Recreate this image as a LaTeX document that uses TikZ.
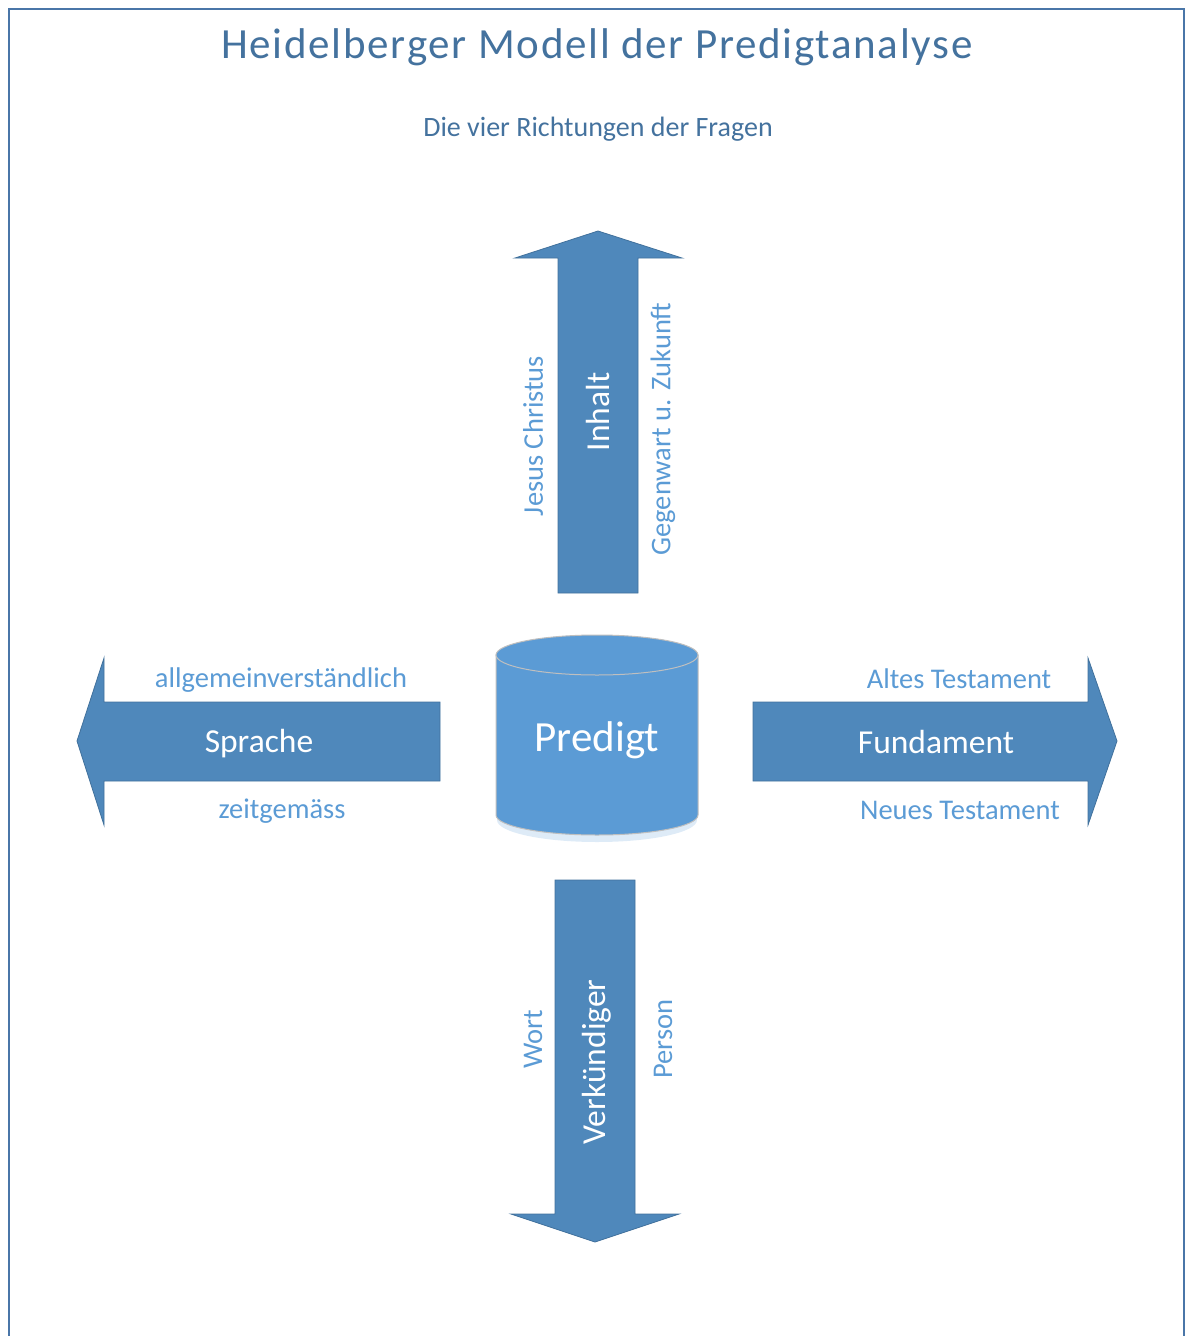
\documentclass[tikz,border=0pt]{standalone}
\usepackage{fontspec}
\setmainfont{Carlito}
\definecolor{arrowfill}{HTML}{4F88BB}
\definecolor{arrowedge}{HTML}{41719C}
\definecolor{cylfill}{HTML}{5B9BD5}
\definecolor{labelblue}{HTML}{5B9BD5}
\definecolor{titleblue}{HTML}{44729E}
\definecolor{framecol}{HTML}{4A76A8}
\tikzset{
  bigarrow/.style={fill=arrowfill, draw=arrowedge, line width=0.8pt, line join=miter},
  whitelabel/.style={text=white, font=\fontsize{33.5}{36}\selectfont, inner sep=0pt},
  sidelabel/.style={text=labelblue, font=\fontsize{28.5}{32}\selectfont, inner sep=0pt},
  framestyle/.style={draw=framecol, line width=2.4pt},
}
\begin{document}
\begin{tikzpicture}[x=1pt,y=-1pt]
\useasboundingbox (0,0) rectangle (1187,1336);
% frame
\draw[framestyle] (9,1345) -- (9,9) -- (1184,9) -- (1184,1345);
% title
\node[text=titleblue, font=\fontsize{43}{48}\selectfont\addfontfeature{LetterSpace=4}, inner sep=0pt] (title) at (597,47) {Heidelberger Modell der Predigtanalyse};
\node[text=titleblue, font=\fontsize{28}{32}\selectfont, inner sep=0pt] (subtitle) at (598,129) {Die vier Richtungen der Fragen};
% up arrow
\draw[bigarrow] (558,593) -- (558,258) -- (515,258) -- (598,231) -- (682,258) -- (638,258) -- (638,593) -- cycle;
% down arrow
\draw[bigarrow] (555,880) -- (555,1214) -- (511,1214) -- (595,1242) -- (679,1214) -- (635,1214) -- (635,880) -- cycle;
% left arrow
\draw[bigarrow] (440,702) -- (104,702) -- (104,658) -- (77,741) -- (104,825) -- (104,781) -- (440,781) -- cycle;
% right arrow
\draw[bigarrow] (753,702) -- (1088,702) -- (1088,658) -- (1117,741) -- (1088,825) -- (1088,781) -- (753,781) -- cycle;
% cylinder glow
\fill[cylfill!20] (597,820) ellipse[x radius=100, y radius=22];
% cylinder
\draw[fill=cylfill, draw=black!25, line width=1pt] (496,655) -- (496,815) arc[start angle=180, end angle=0, x radius=101, y radius=20] -- (698,655) -- cycle;
\draw[fill=cylfill, draw=black!25, line width=1pt] (597,655) ellipse[x radius=101, y radius=20];
% texts
\node[whitelabel, font=\fontsize{43}{46}\selectfont] (predigt) at (597,740) {Predigt};
\node[whitelabel, rotate=90] (inhalt) at (598,412) {Inhalt};
\node[sidelabel, rotate=90] (jesus) at (533,436) {Jesus Christus};
\node[sidelabel, rotate=90] (gegenwart) at (663,429) {Gegenwart u. Zukunft};
\node[whitelabel] (sprache) at (259,744) {Sprache};
\node[sidelabel] (allg) at (281,680) {allgemeinverständlich};
\node[sidelabel] (zeit) at (282,811) {zeitgemäss};
\node[whitelabel] (fundament) at (936,742) {Fundament};
\node[sidelabel] (altes) at (959,679) {Altes Testament};
\node[sidelabel] (neues) at (960,810) {Neues Testament};
\node[whitelabel, rotate=90] (verk) at (597,1062) {Verkündiger};
\node[sidelabel, rotate=90] (wort) at (533,1039) {Wort};
\node[sidelabel, rotate=90] (person) at (663,1039) {Person};
\end{tikzpicture}
\end{document}
